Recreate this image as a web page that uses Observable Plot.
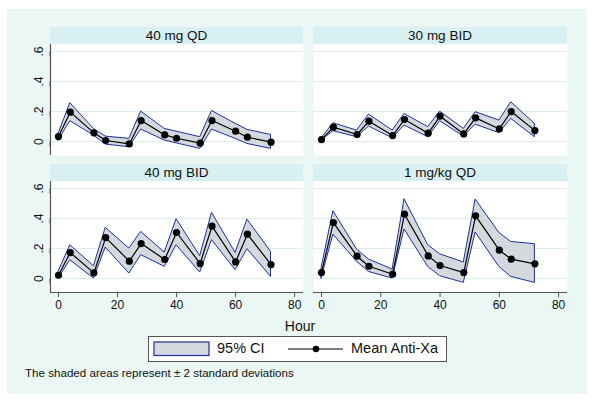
<!DOCTYPE html>
<html>
<head>
<meta charset="utf-8">
<script src="https://cdn.jsdelivr.net/npm/d3@7"></script>
<script src="https://cdn.jsdelivr.net/npm/@observablehq/plot@0.6"></script>
<style>
  html, body { margin: 0; padding: 0; background: white; }
  body { font-family: "Liberation Sans", Arial, sans-serif; }
  #root { position: relative; width: 600px; height: 404px; overflow: hidden; background: white; }
  #bg { position: absolute; left: 7px; top: 9px; width: 580px; height: 385px; background: #ebf7f4; }
  .strip { position: absolute; height: 17px; background: #d8f0f1; font-size: 13.5px; line-height: 17px; text-align: center; color: #111; }
  .pan { position: absolute; }
  .txt { position: absolute; color: #111; white-space: nowrap; }
</style>
</head>
<body>
<div id="root"><div id="bg"></div></div>
<script>
// ---- data ----
const hours = [0, 4, 12, 16, 24, 28, 36, 40, 48, 52, 60, 64, 72];
const panelTitles = ["40 mg QD", "30 mg BID", "40 mg BID", "1 mg/kg QD"];

const qd40Mean = [0.033, 0.196, 0.058, 0.007, -0.016, 0.14, 0.044, 0.022, -0.011, 0.14, 0.069, 0.029, -0.004];
const qd40Hi   = [0.05, 0.256, 0.084, 0.033, 0.018, 0.2, 0.084, 0.066, 0.029, 0.204, 0.118, 0.078, 0.044];
const qd40Lo   = [0.007, 0.136, 0.04, -0.02, -0.038, 0.08, 0.007, -0.012, -0.049, 0.08, 0.018, -0.016, -0.049];

const bid30Mean = [0.013, 0.096, 0.047, 0.136, 0.04, 0.147, 0.056, 0.169, 0.051, 0.158, 0.084, 0.2, 0.073];
const bid30Hi   = [0.02, 0.122, 0.073, 0.18, 0.073, 0.184, 0.096, 0.2, 0.084, 0.196, 0.14, 0.262, 0.118];
const bid30Lo   = [0.005, 0.069, 0.029, 0.1, 0.022, 0.107, 0.029, 0.136, 0.033, 0.113, 0.056, 0.151, 0.029];

const bid40Mean = [0.022, 0.173, 0.038, 0.273, 0.116, 0.233, 0.127, 0.307, 0.1, 0.349, 0.111, 0.296, 0.093];
const bid40Hi   = [0.044, 0.222, 0.082, 0.338, 0.2, 0.311, 0.173, 0.396, 0.149, 0.438, 0.171, 0.393, 0.178];
const bid40Lo   = [0, 0.122, 0, 0.207, 0.033, 0.156, 0.078, 0.222, 0.04, 0.256, 0.056, 0.196, 0.011];

const qd1Mean = [0.04, 0.373, 0.149, 0.082, 0.029, 0.429, 0.151, 0.087, 0.04, 0.418, 0.189, 0.129, 0.098];
const qd1Hi   = [0.067, 0.449, 0.193, 0.127, 0.06, 0.529, 0.222, 0.162, 0.107, 0.527, 0.304, 0.244, 0.229];
const qd1Lo   = [0, 0.293, 0.111, 0.044, 0, 0.327, 0.078, 0.016, -0.029, 0.307, 0.078, 0.011, -0.029];

const xTicks = [0, 20, 40, 60, 80];
const yTicks = [0, 0.2, 0.4, 0.6];
const xLabel = "Hour";
const legendLabels = ["95% CI", "Mean Anti-Xa"];
const note = "The shaded areas represent \u00b1 2 standard deviations";

// ---- drawing ----
const root = document.getElementById("root");
const xDomain = [-2.7, 83];
const yDomain = [-0.093, 0.647];
const axisColor = "#555";
const font = "Liberation Sans, Arial, sans-serif";

function rows(mean, hi, lo) {
  return hours.map((h, i) => ({hour: h, mean: mean[i], hi: hi[i], lo: lo[i]}));
}

function panel(data, title, col, row) {
  const showY = col === 0;
  const showX = row === 1;
  const plotLeft = col === 0 ? 50 : 313;
  const plotW = col === 0 ? 253 : 254;
  const plotTop = row === 0 ? 44 : 181;
  const plotH = 111;
  const stripTop = row === 0 ? 27 : 164;

  const s = document.createElement("div");
  s.className = "strip";
  s.style.left = plotLeft + "px";
  s.style.top = stripTop + "px";
  s.style.width = plotW + "px";
  s.textContent = title;
  root.appendChild(s);

  const mL = showY ? 50 : 0;
  const mB = showX ? 26 : 0;
  const marks = [
    Plot.frame({fill: "white", stroke: "none"}),
    Plot.gridY(yTicks, {stroke: "#dcefed", strokeOpacity: 1, strokeWidth: 1}),
    Plot.areaY(data, {x: "hour", y1: "lo", y2: "hi", fill: "#d3d9dc", stroke: "#1f2f9c", strokeWidth: 1}),
    Plot.line(data, {x: "hour", y: "mean", stroke: "black", strokeWidth: 1.2}),
    Plot.dot(data, {x: "hour", y: "mean", r: 3.6, fill: "black", stroke: "none"})
  ];
  if (showY) {
    marks.push(Plot.axisY(yTicks, {
      anchor: "left", tickSize: 5, tickPadding: 3, rotate: -90, textAnchor: "middle",
      lineAnchor: "bottom", fontSize: 12, stroke: axisColor, fill: "#111",
      tickFormat: d => d === 0 ? "0" : String(d).replace("0.", "."), label: null
    }));
    marks.push(Plot.ruleX([xDomain[0]], {stroke: axisColor, strokeWidth: 1.2}));
  } else {
    marks.push(Plot.axisY([], {label: null}));
  }
  if (showX) {
    marks.push(Plot.axisX(xTicks, {
      anchor: "bottom", tickSize: 5, tickPadding: 3, fontSize: 12, stroke: axisColor, fill: "#111",
      label: null
    }));
    marks.push(Plot.ruleY([yDomain[0]], {stroke: axisColor, strokeWidth: 1.2}));
  } else {
    marks.push(Plot.axisX([], {label: null}));
  }

  const svg = Plot.plot({
    width: mL + plotW,
    height: plotH + mB,
    marginLeft: mL, marginRight: 0, marginTop: 0, marginBottom: mB,
    x: {domain: xDomain},
    y: {domain: yDomain},
    style: {background: "transparent", overflow: "visible", fontFamily: font, color: "#111"},
    marks
  });
  svg.classList.add("pan");
  svg.style.position = "absolute";
  svg.style.left = (plotLeft - mL) + "px";
  svg.style.top = plotTop + "px";
  svg.style.maxWidth = "none";
  root.appendChild(svg);
}

panel(rows(qd40Mean, qd40Hi, qd40Lo), panelTitles[0], 0, 0);
panel(rows(bid30Mean, bid30Hi, bid30Lo), panelTitles[1], 1, 0);
panel(rows(bid40Mean, bid40Hi, bid40Lo), panelTitles[2], 0, 1);
panel(rows(qd1Mean, qd1Hi, qd1Lo), panelTitles[3], 1, 1);

// x label
const xl = document.createElement("div");
xl.className = "txt";
xl.style.cssText += "left:0;width:600px;text-align:center;top:318px;font-size:14px;";
xl.textContent = xLabel;
root.appendChild(xl);

// legend
const lg = document.createElement("div");
lg.style.cssText = "position:absolute;left:148px;top:336px;width:297px;height:24px;background:white;border:1px solid #555;";
lg.innerHTML =
  `<svg width="297" height="24" style="position:absolute;left:0;top:0">
     <rect x="5" y="5" width="55" height="13.5" fill="#d3d9dc" stroke="#1f2f9c" stroke-width="1.2"></rect>
     <line x1="139" x2="194" y1="12" y2="12" stroke="black" stroke-width="1.2"></line>
     <circle cx="167" cy="12" r="3.3" fill="black"></circle>
   </svg>
   <div class="txt" style="left:68px;top:3px;font-size:14.5px;">${legendLabels[0]}</div>
   <div class="txt" style="left:202px;top:3px;font-size:14.5px;">${legendLabels[1]}</div>`;
root.appendChild(lg);

// note
const nt = document.createElement("div");
nt.className = "txt";
nt.style.cssText += "left:25px;top:366px;font-size:11.6px;";
nt.textContent = note;
root.appendChild(nt);
</script>
</body>
</html>
